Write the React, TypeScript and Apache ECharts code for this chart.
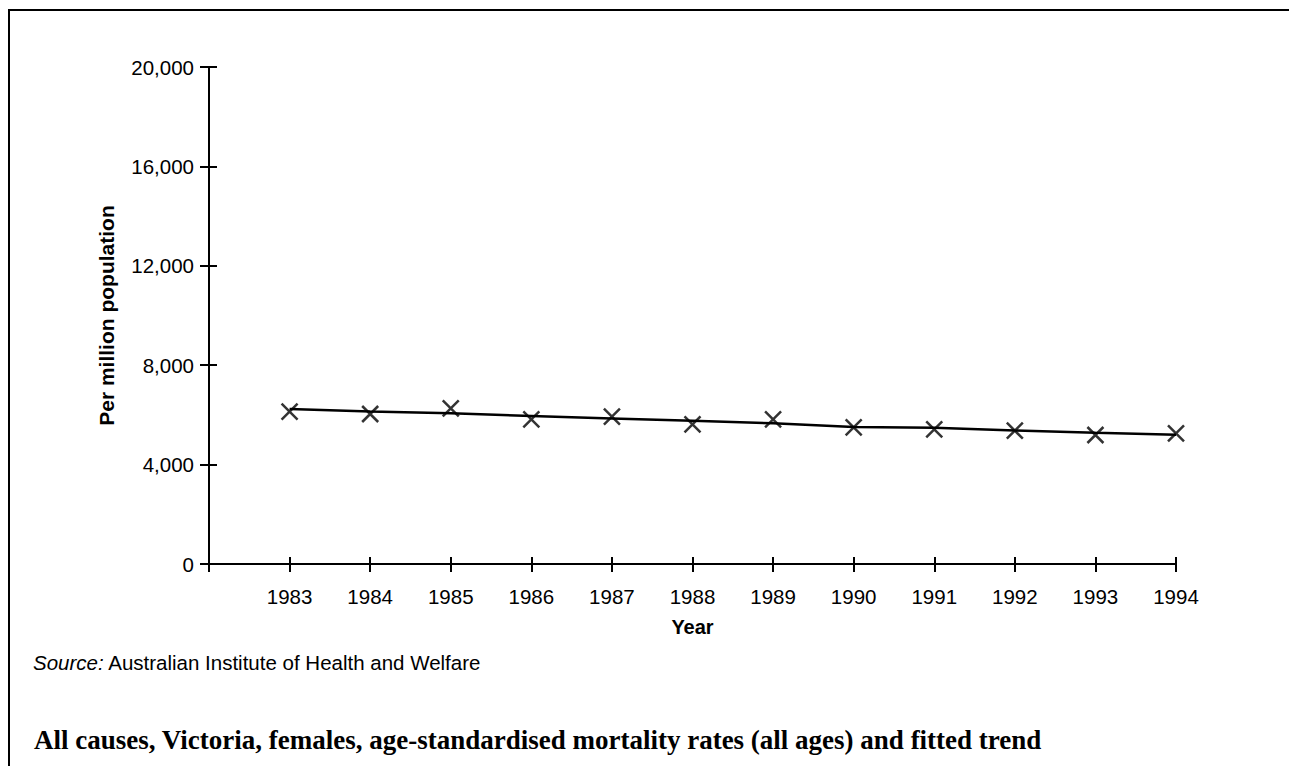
import React, { useEffect, useRef } from "react";
import * as echarts from "echarts";

const years = [1983, 1984, 1985, 1986, 1987, 1988, 1989, 1990, 1991, 1992, 1993, 1994];
const observedRates = [6130, 6036, 6265, 5823, 5927, 5621, 5823, 5500, 5420, 5364, 5191, 5259];
const trendRates = [6237, 6140, 6062, 5960, 5860, 5760, 5660, 5510, 5480, 5370, 5284, 5204];
const yTicks = [0, 4000, 8000, 12000, 16000, 20000];

const FONT = "Liberation Sans, Arial, sans-serif";

export default function App() {
  const ref = useRef<HTMLDivElement>(null);
  useEffect(() => {
    if (!ref.current) return;
    const chart = echarts.init(ref.current, null, { renderer: "svg" });
    const xBase = {
      type: "value" as const,
      min: 1982,
      max: 1994,
      interval: 1,
      splitLine: { show: false },
    };
    const yBase = {
      type: "value" as const,
      min: yTicks[0],
      max: yTicks[yTicks.length - 1],
      interval: 4000,
      splitLine: { show: false },
    };
    chart.setOption({
      animation: false,
      backgroundColor: "#fff",
      grid: { left: 209, right: 113, top: 67, bottom: 202 },
      xAxis: [
        {
          ...xBase,
          name: "Year",
          nameLocation: "middle",
          nameGap: 53,
          nameTextStyle: { fontFamily: FONT, fontSize: 20, fontWeight: "bold", color: "#000" },
          axisLine: { show: true, lineStyle: { color: "#000", width: 2 } },
          axisTick: { show: true, length: 8, lineStyle: { color: "#000", width: 2 } },
          axisLabel: {
            margin: 22,
            fontFamily: FONT,
            fontSize: 20.5,
            color: "#000",
            formatter: (v: number) => (v === 1982 ? "" : String(v)),
          },
        },
        {
          ...xBase,
          position: "bottom",
          axisLine: { show: false },
          axisTick: { show: true, inside: true, length: 7, lineStyle: { color: "#000", width: 2 } },
          axisLabel: { show: false },
        },
      ],
      yAxis: [
        {
          ...yBase,
          name: "Per million population",
          nameLocation: "middle",
          nameGap: 92,
          nameTextStyle: { fontFamily: FONT, fontSize: 21, fontWeight: "bold", color: "#000" },
          axisLine: { show: true, lineStyle: { color: "#000", width: 2 } },
          axisTick: { show: true, length: 9, lineStyle: { color: "#000", width: 2 } },
          axisLabel: {
            margin: 15,
            fontFamily: FONT,
            fontSize: 20.5,
            color: "#000",
            formatter: (v: number) => v.toLocaleString("en-US"),
          },
        },
        {
          ...yBase,
          position: "left",
          axisLine: { show: false },
          axisTick: { show: true, inside: true, length: 8, lineStyle: { color: "#000", width: 2 } },
          axisLabel: { show: false },
        },
      ],
      series: [
        {
          type: "line",
          name: "Fitted trend",
          data: years.map((y, i) => [y, trendRates[i]]),
          showSymbol: false,
          symbol: "none",
          lineStyle: { color: "#000", width: 2.5 },
          z: 2,
        },
        {
          type: "scatter",
          name: "Observed",
          data: years.map((y, i) => [y, observedRates[i]]),
          symbol: "path://M0,0L10,10M10,0L0,10",
          symbolSize: 16,
          itemStyle: { color: "none", borderColor: "#000", borderWidth: 2.5 },
          z: 3,
        },
      ],
      graphic: [
        {
          type: "rect",
          shape: { x: 9, y: 10, width: 2000, height: 2000 },
          style: { fill: "none", stroke: "#000", lineWidth: 2 },
          silent: true,
        },
        {
          type: "text",
          x: 33,
          y: 662,
          style: {
            text: "{i|Source:} Australian Institute of Health and Welfare",
            fontFamily: FONT,
            fontSize: 20.5,
            fill: "#000",
            verticalAlign: "middle",
            rich: {
              i: { fontFamily: FONT, fontSize: 20.5, fontStyle: "italic", fill: "#000" },
            },
          },
        },
        {
          type: "text",
          x: 34,
          y: 740,
          style: {
            text: "All causes, Victoria, females, age-standardised mortality rates (all ages) and fitted trend",
            fontFamily: "Liberation Serif, Times New Roman, serif",
            fontSize: 27,
            fontWeight: "bold",
            fill: "#000",
            verticalAlign: "middle",
          },
        },
      ],
    });
    return () => chart.dispose();
  }, []);
  return (
    <div
      ref={ref}
      style={{ position: "fixed", left: 0, top: 0, width: 1289, height: 766, background: "#fff" }}
    />
  );
}
